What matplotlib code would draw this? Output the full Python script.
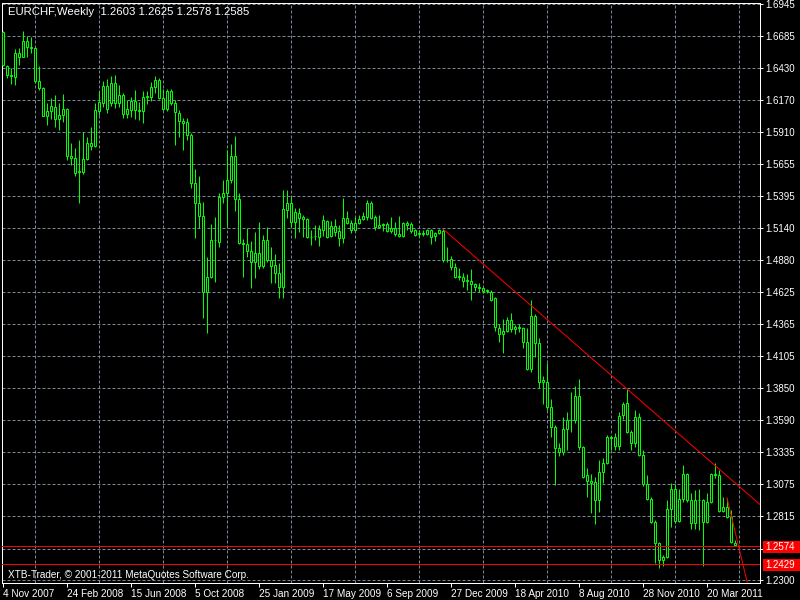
import matplotlib
matplotlib.use("Agg")
import matplotlib.pyplot as plt
import matplotlib.transforms as mtransforms
from matplotlib.patches import Rectangle
import numpy as np

plt.rcParams["font.family"] = ["Liberation Sans", "DejaVu Sans"]

# chart texts
title_text = "EURCHF,Weekly  1.2603 1.2625 1.2578 1.2585"
copyright_text = "XTB-Trader, \u00a9 2001-2011 MetaQuotes Software Corp."

# weekly EURCHF candles, first bar = 4 Nov 2007
opens = [1.6719, 1.6445, 1.6373, 1.6356, 1.6550, 1.6518, 1.6647, 1.6598, 1.6590, 1.6324,
         1.6268, 1.6042, 1.6082, 1.6115, 1.6018, 1.6050, 1.6099, 1.5720, 1.5704, 1.5599,
         1.5591, 1.5695, 1.5824, 1.5800, 1.6082, 1.6147, 1.6284, 1.6147, 1.6308, 1.6147,
         1.6211, 1.6058, 1.6090, 1.6163, 1.6090, 1.6082, 1.6195, 1.6195, 1.6276, 1.6332,
         1.6187, 1.6099, 1.6244, 1.6147, 1.6066, 1.6002, 1.5994, 1.5889, 1.5502, 1.5341,
         1.5236, 1.4623, 1.4744, 1.5043, 1.5027, 1.5389, 1.5421, 1.5526, 1.5720, 1.5373,
         1.5018, 1.5010, 1.4954, 1.4865, 1.4938, 1.4833, 1.5043, 1.4881, 1.4841, 1.4777,
         1.4664, 1.5284, 1.5341, 1.5188, 1.5260, 1.5228, 1.5212, 1.5067, 1.5071, 1.5067,
         1.5123, 1.5196, 1.5075, 1.5155, 1.5115, 1.5059, 1.5220, 1.5180, 1.5123, 1.5180,
         1.5212, 1.5228, 1.5341, 1.5228, 1.5147, 1.5164, 1.5172, 1.5115, 1.5139, 1.5091,
         1.5075, 1.5180, 1.5172, 1.5123, 1.5091, 1.5099, 1.5091, 1.5123, 1.5075, 1.5099,
         1.5115, 1.4881, 1.4889, 1.4825, 1.4752, 1.4744, 1.4720, 1.4712, 1.4688, 1.4664,
         1.4656, 1.4640, 1.4624, 1.4575, 1.4333, 1.4285, 1.4309, 1.4398, 1.4325, 1.4341,
         1.4333, 1.4220, 1.4003, 1.4430, 1.4212, 1.3914, 1.3898, 1.3697, 1.3535, 1.3366,
         1.3334, 1.3519, 1.3592, 1.3592, 1.3785, 1.3374, 1.3148, 1.3100, 1.3092, 1.2947,
         1.3173, 1.3245, 1.3455, 1.3455, 1.3382, 1.3632, 1.3729, 1.3495, 1.3406, 1.3616,
         1.3310, 1.3076, 1.2955, 1.2770, 1.2600, 1.2463, 1.2488, 1.2874, 1.3036, 1.2778,
         1.2955, 1.3157, 1.2947, 1.2762, 1.2947, 1.2947, 1.2770, 1.2931, 1.3157, 1.3148,
         1.2858, 1.2890, 1.2810, 1.2603]
highs = [1.6727, 1.6453, 1.6429, 1.6582, 1.6590, 1.6727, 1.6687, 1.6679, 1.6598, 1.6445,
         1.6276, 1.6147, 1.6187, 1.6211, 1.6147, 1.6219, 1.6107, 1.5824, 1.5784, 1.5849,
         1.5913, 1.5873, 1.5953, 1.6147, 1.6244, 1.6324, 1.6340, 1.6364, 1.6373, 1.6292,
         1.6227, 1.6171, 1.6195, 1.6252, 1.6155, 1.6244, 1.6244, 1.6316, 1.6364, 1.6348,
         1.6260, 1.6260, 1.6260, 1.6171, 1.6090, 1.6026, 1.6026, 1.5905, 1.5615, 1.5558,
         1.5349, 1.4906, 1.5172, 1.5228, 1.5421, 1.5526, 1.5768, 1.5816, 1.5881, 1.5421,
         1.5051, 1.5139, 1.5035, 1.5107, 1.5188, 1.5083, 1.5147, 1.4986, 1.4930, 1.4857,
         1.5446, 1.5446, 1.5389, 1.5301, 1.5301, 1.5244, 1.5220, 1.5123, 1.5164, 1.5164,
         1.5244, 1.5204, 1.5196, 1.5212, 1.5164, 1.5381, 1.5276, 1.5204, 1.5228, 1.5244,
         1.5268, 1.5365, 1.5357, 1.5244, 1.5244, 1.5180, 1.5188, 1.5228, 1.5188, 1.5236,
         1.5188, 1.5196, 1.5188, 1.5131, 1.5123, 1.5123, 1.5131, 1.5131, 1.5107, 1.5131,
         1.5131, 1.4986, 1.4914, 1.4857, 1.4817, 1.4777, 1.4769, 1.4809, 1.4696, 1.4696,
         1.4664, 1.4648, 1.4640, 1.4583, 1.4366, 1.4406, 1.4422, 1.4454, 1.4358, 1.4366,
         1.4341, 1.4333, 1.4559, 1.4446, 1.4253, 1.3946, 1.4051, 1.3761, 1.3552, 1.3406,
         1.3616, 1.3656, 1.3817, 1.3866, 1.3922, 1.3382, 1.3205, 1.3157, 1.3132, 1.3269,
         1.3286, 1.3471, 1.3463, 1.3487, 1.3656, 1.3737, 1.3842, 1.3511, 1.3672, 1.3648,
         1.3350, 1.3149, 1.2971, 1.2786, 1.2608, 1.2504, 1.2947, 1.3084, 1.3076, 1.3036,
         1.3229, 1.3165, 1.3003, 1.3028, 1.3036, 1.2955, 1.3003, 1.3165, 1.3245, 1.3189,
         1.2971, 1.2963, 1.2866, 1.2625]
lows = [1.6445, 1.6348, 1.6300, 1.6292, 1.6453, 1.6518, 1.6518, 1.6550, 1.6308, 1.6252,
        1.6042, 1.5970, 1.6018, 1.5953, 1.5929, 1.5994, 1.5687, 1.5647, 1.5558, 1.5341,
        1.5575, 1.5687, 1.5768, 1.5792, 1.6050, 1.6115, 1.6066, 1.6123, 1.6107, 1.6115,
        1.6026, 1.6026, 1.6034, 1.6018, 1.6010, 1.5986, 1.6139, 1.6163, 1.6227, 1.6179,
        1.6090, 1.6082, 1.6131, 1.5808, 1.5873, 1.5768, 1.5849, 1.5462, 1.5059, 1.5139,
        1.4414, 1.4293, 1.4736, 1.4704, 1.4986, 1.5341, 1.5147, 1.5502, 1.5276, 1.5010,
        1.4744, 1.4906, 1.4656, 1.4736, 1.4809, 1.4817, 1.4865, 1.4696, 1.4696, 1.4575,
        1.4575, 1.5220, 1.5147, 1.5059, 1.5107, 1.5067, 1.5059, 1.5002, 1.5043, 1.4994,
        1.5075, 1.5059, 1.5067, 1.5075, 1.4994, 1.5018, 1.5172, 1.5099, 1.5115, 1.5172,
        1.5204, 1.5204, 1.5212, 1.5123, 1.5139, 1.5115, 1.5107, 1.5099, 1.5075, 1.5067,
        1.5067, 1.5123, 1.5099, 1.5075, 1.5067, 1.5075, 1.5083, 1.5010, 1.5035, 1.5091,
        1.4865, 1.4865, 1.4801, 1.4736, 1.4720, 1.4664, 1.4640, 1.4559, 1.4632, 1.4624,
        1.4615, 1.4615, 1.4551, 1.4309, 1.4220, 1.4132, 1.4301, 1.4301, 1.4285, 1.4301,
        1.4172, 1.3995, 1.3979, 1.4100, 1.3850, 1.3721, 1.3672, 1.3455, 1.3068, 1.3302,
        1.3310, 1.3350, 1.3495, 1.3568, 1.3350, 1.3124, 1.2971, 1.2842, 1.2754, 1.2850,
        1.3084, 1.3237, 1.3350, 1.3350, 1.3350, 1.3600, 1.3487, 1.3350, 1.3374, 1.3302,
        1.3060, 1.2947, 1.2762, 1.2439, 1.2399, 1.2415, 1.2480, 1.2729, 1.2762, 1.2770,
        1.2931, 1.2931, 1.2713, 1.2713, 1.2705, 1.2415, 1.2762, 1.2923, 1.3124, 1.2850,
        1.2850, 1.2802, 1.2600, 1.2578]
closes = [1.6453, 1.6373, 1.6364, 1.6550, 1.6518, 1.6647, 1.6598, 1.6590, 1.6324, 1.6268,
          1.6042, 1.6082, 1.6123, 1.6018, 1.6050, 1.6099, 1.5720, 1.5704, 1.5583, 1.5591,
          1.5695, 1.5824, 1.5800, 1.6090, 1.6155, 1.6284, 1.6099, 1.6308, 1.6147, 1.6211,
          1.6058, 1.6099, 1.6163, 1.6090, 1.6082, 1.6195, 1.6203, 1.6276, 1.6332, 1.6187,
          1.6099, 1.6244, 1.6147, 1.6074, 1.6002, 1.5986, 1.5889, 1.5502, 1.5341, 1.5236,
          1.4623, 1.4744, 1.5043, 1.5039, 1.5389, 1.5421, 1.5526, 1.5720, 1.5373, 1.5018,
          1.5010, 1.4954, 1.4865, 1.4938, 1.4833, 1.5043, 1.4881, 1.4833, 1.4777, 1.4664,
          1.5292, 1.5341, 1.5188, 1.5268, 1.5220, 1.5212, 1.5067, 1.5063, 1.5075, 1.5131,
          1.5204, 1.5067, 1.5155, 1.5107, 1.5059, 1.5220, 1.5180, 1.5123, 1.5180, 1.5212,
          1.5236, 1.5341, 1.5220, 1.5147, 1.5164, 1.5172, 1.5115, 1.5139, 1.5091, 1.5075,
          1.5180, 1.5164, 1.5115, 1.5083, 1.5099, 1.5091, 1.5123, 1.5067, 1.5099, 1.5123,
          1.4881, 1.4885, 1.4825, 1.4744, 1.4748, 1.4712, 1.4712, 1.4688, 1.4664, 1.4656,
          1.4632, 1.4632, 1.4559, 1.4341, 1.4285, 1.4309, 1.4398, 1.4325, 1.4341, 1.4333,
          1.4220, 1.4003, 1.4430, 1.4212, 1.3898, 1.3898, 1.3697, 1.3535, 1.3366, 1.3334,
          1.3519, 1.3592, 1.3588, 1.3785, 1.3374, 1.3132, 1.3100, 1.3084, 1.2947, 1.3173,
          1.3245, 1.3455, 1.3447, 1.3382, 1.3624, 1.3721, 1.3495, 1.3406, 1.3616, 1.3310,
          1.3076, 1.2955, 1.2770, 1.2600, 1.2463, 1.2488, 1.2874, 1.3036, 1.2778, 1.2955,
          1.3157, 1.2947, 1.2762, 1.2947, 1.2943, 1.2770, 1.2931, 1.3157, 1.3148, 1.2858,
          1.2890, 1.2810, 1.2608, 1.2585]

date_labels = ["4 Nov 2007", "24 Feb 2008", "15 Jun 2008", "5 Oct 2008", "25 Jan 2009",
               "17 May 2009", "6 Sep 2009", "27 Dec 2009", "18 Apr 2010", "8 Aug 2010",
               "28 Nov 2010", "20 Mar 2011"]
date_bars = [0, 16, 32, 48, 64, 80, 96, 112, 128, 144, 160, 176]
price_ticks = [1.6945, 1.6685, 1.6430, 1.6170, 1.5910, 1.5655, 1.5395, 1.5140, 1.4880,
               1.4625, 1.4365, 1.4105, 1.3850, 1.3590, 1.3335, 1.3075, 1.2815, 1.2555, 1.2300]
# 1.2555 sits under the red level label, so its text is not shown
price_labels = ["1.6945", "1.6685", "1.6430", "1.6170", "1.5910", "1.5655", "1.5395",
                "1.5140", "1.4880", "1.4625", "1.4365", "1.4105", "1.3850", "1.3590",
                "1.3335", "1.3075", "1.2815", "", "1.2300"]

# horizontal levels and trend lines (bar index, price)
levels = [1.2574, 1.2429]
trend1_x = [110, 156]
trend1_y = [1.5131, 1.3842]
trend2_x = [181, 186]
trend2_y = [1.2963, 1.2290]

bg = "black"
fg = "white"
candle_col = "#00ff00"
grid_col = "#778899"
px = 0.72  # one pixel in points at 100 dpi

fig = plt.figure(figsize=(8, 6), dpi=100, facecolor=bg)
ax = fig.add_axes([2 / 800, 17 / 600, 758 / 800, 580 / 600], facecolor=bg)

o = np.array(opens)
h = np.array(highs)
l = np.array(lows)
c = np.array(closes)
x = np.arange(len(o))

# wicks, then hollow bodies
ax.vlines(x, l, h, color=candle_col, linewidth=px, zorder=3)
ax.bar(x, np.abs(c - o), bottom=np.minimum(o, c), width=0.5,
       color="black", edgecolor=candle_col, linewidth=px, zorder=4)

# trend lines as rays to the right
x_far = 200
s1 = (trend1_y[1] - trend1_y[0]) / (trend1_x[1] - trend1_x[0])
ax.plot([trend1_x[0], x_far], [trend1_y[0], trend1_y[0] + s1 * (x_far - trend1_x[0])],
        color="red", linewidth=px, zorder=5)
s2 = (trend2_y[1] - trend2_y[0]) / (trend2_x[1] - trend2_x[0])
ax.plot([trend2_x[0], x_far], [trend2_y[0], trend2_y[0] + s2 * (x_far - trend2_x[0])],
        color="red", linewidth=px, zorder=5)

for lv in levels:
    ax.axhline(lv, color="red", linewidth=px, zorder=5)

ax.set_xlim(-0.25, 189.25)
ax.set_ylim(1.2278, 1.6953)

# grid
ax.set_yticks(price_ticks)
ax.set_yticklabels(price_labels)
ax.set_xticks(date_bars)
ax.set_xticklabels(date_labels)
ax.set_xticks(np.arange(8, 189, 8), minor=True)
ax.grid(True, axis="y", which="major", color=grid_col, linewidth=px,
        linestyle=(0, (3, 2)), zorder=1)
ax.grid(True, axis="x", which="minor", color=grid_col, linewidth=px,
        linestyle=(0, (3, 2)), zorder=1)
ax.set_axisbelow(True)

ax.yaxis.tick_right()
ax.tick_params(axis="y", colors=fg, labelsize=7, length=2.5, width=px, pad=1.5)
ax.tick_params(axis="x", which="major", colors=fg, labelsize=7.2, length=3, width=px, pad=1)
ax.tick_params(axis="x", which="minor", length=0)
for lab in ax.get_xticklabels():
    lab.set_horizontalalignment("left")

for sp in ax.spines.values():
    sp.set_color(fg)
    sp.set_linewidth(px)

# red price labels on the axis
trans = mtransforms.blended_transform_factory(ax.transAxes, ax.transData)
box_h = 12 * (1.6953 - 1.2278) / 580
for lv in levels:
    ax.add_patch(Rectangle((1.004, lv - box_h / 2 - 0.0006), 0.049, box_h, transform=trans,
                           facecolor="red", edgecolor="none", clip_on=False, zorder=6))
    ax.text(1.0075, lv - 0.0006, f"{lv:.4f}", transform=trans, color=fg, fontsize=7,
            va="center", ha="left", clip_on=False, zorder=7)

ax.text(6 / 758, 1 - 4 / 580, title_text, transform=ax.transAxes, color=fg,
        fontsize=8.2, va="top", ha="left", zorder=7)
ax.text(6 / 758, 3 / 580, copyright_text, transform=ax.transAxes, color=fg,
        fontsize=7.2, va="bottom", ha="left", zorder=7)

fig.savefig("out.png", dpi=100, facecolor=bg)
